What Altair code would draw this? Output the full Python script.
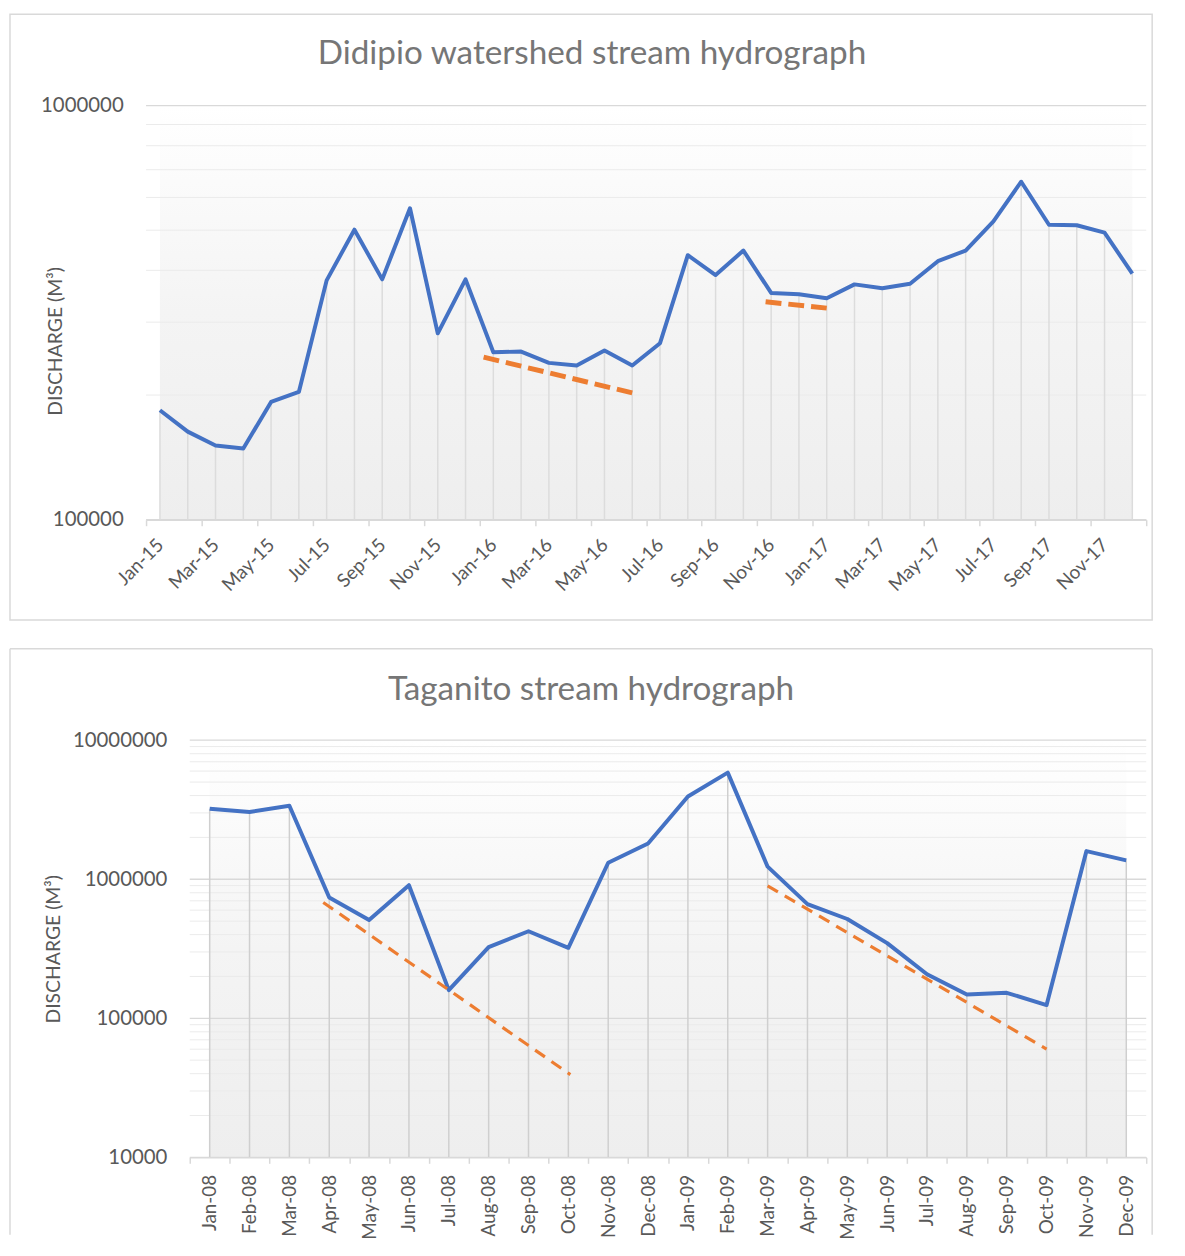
import json
import altair as alt
import pandas as pd

# ---------------- Didipio (top) ----------------
DID_TITLE = "Didipio watershed stream hydrograph"
DID_MONTHS = ["Jan-15", "Feb-15", "Mar-15", "Apr-15", "May-15", "Jun-15",
              "Jul-15", "Aug-15", "Sep-15", "Oct-15", "Nov-15", "Dec-15",
              "Jan-16", "Feb-16", "Mar-16", "Apr-16", "May-16", "Jun-16",
              "Jul-16", "Aug-16", "Sep-16", "Oct-16", "Nov-16", "Dec-16",
              "Jan-17", "Feb-17", "Mar-17", "Apr-17", "May-17", "Jun-17",
              "Jul-17", "Aug-17", "Sep-17", "Oct-17", "Nov-17", "Dec-17"]
DID_VALUES = [183800, 163200, 151100, 148600, 192500, 203500,
              378400, 501500, 380500, 565000, 281900, 380500,
              253800, 254700, 239200, 235700, 256200, 235700,
              266800, 435200, 389700, 446600, 352900, 350200,
              342600, 370000, 362100, 371500, 421000, 446600,
              525200, 654800, 515600, 514000, 493300, 392800]
DID_TREND_A_X = [11.65, 17.0]
DID_TREND_A_Y = [247000, 202400]
DID_TREND_B_X = [21.8, 24.0]
DID_TREND_B_Y = [335900, 324300]
DID_DECADES = [100000, 1000000]

# ---------------- Taganito (bottom) ----------------
TAG_TITLE = "Taganito stream hydrograph"
TAG_MONTHS = ["Jan-08", "Feb-08", "Mar-08", "Apr-08", "May-08", "Jun-08",
              "Jul-08", "Aug-08", "Sep-08", "Oct-08", "Nov-08", "Dec-08",
              "Jan-09", "Feb-09", "Mar-09", "Apr-09", "May-09", "Jun-09",
              "Jul-09", "Aug-09", "Sep-09", "Oct-09", "Nov-09", "Dec-09"]
TAG_VALUES = [3213000, 3043000, 3378000, 740000, 509300, 906000,
              159400, 325000, 422900, 321500, 1315000, 1807000,
              3936000, 5845000, 1232000, 663000, 518000, 347100,
              207300, 148400, 152500, 124500, 1594000, 1367000]
TAG_TREND_A_X = [2.85, 9.05]
TAG_TREND_A_Y = [681300, 39360]
TAG_TREND_B_X = [14.0, 21.0]
TAG_TREND_B_Y = [896300, 60060]
TAG_DECADES = [10000, 100000, 1000000, 10000000]

Y_TITLE = "DISCHARGE (M³)"

FONT = "Lato"
TEXT_C = "#595959"
TITLE_C = "#767676"
AXIS_C = "#d9d9d9"
BORDER_C = "#d9d9d9"
BLUE = "#4472C4"
ORANGE = "#ED7D31"

# Both panels share the same view origin (x = left edge of the top plot);
# the bottom plot area starts `shift` px further right inside its view.
VIEW_W = 1007
BOX_LEFT = -137
BOX_RIGHT = VIEW_W + 6


def panel(title, months, values, trends, decades, shift, H, label_every,
          label_angle, label_padding, box_top, box_bottom, title_xy, ytitle_xy,
          trend_width, trend_dash, drop_color, full_box):
    n = len(months)
    W = VIEW_W
    df = pd.DataFrame({"idx": list(range(n)), "month": months, "value": values})
    one = pd.DataFrame({"k": [0]})
    span = pd.DataFrame({"idx": [0], "idx_end": [n - 1]})
    step = (W - shift) / n
    xscale = alt.Scale(domain=[-0.5, n - 0.5], range=[shift, W], nice=False, zero=False)
    yscale = alt.Scale(type="log", domain=[decades[0], decades[-1]], nice=False)

    tick_vals = [i - 0.5 for i in range(0, n + 1, label_every)]
    label_expr = json.dumps(months) + "[datum.value + 0.5] || ''"
    x_axis = alt.Axis(values=tick_vals, labelExpr=label_expr, labelOffset=step / 2,
                      labelAngle=label_angle, labelAlign="right", labelBaseline="middle",
                      labelPadding=label_padding, labelFontSize=19, labelColor=TEXT_C,
                      labelFont=FONT, labelOverlap=False, labelFlush=False,
                      tickSize=6, tickColor=AXIS_C, tickWidth=1.5,
                      domainColor=AXIS_C, domainWidth=1.5, grid=False, title=None,
                      zindex=1)
    y_axis = alt.Axis(values=decades, format="d", labelFontSize=20.5, labelColor=TEXT_C,
                      labelFont=FONT, labelPadding=23, ticks=False, domain=False,
                      grid=False, title=Y_TITLE, titleFontSize=19.5, titleFont=FONT,
                      titleFontWeight="normal", titleColor=TEXT_C, offset=-shift,
                      titleX=ytitle_xy[0], titleY=ytitle_xy[1], titleAngle=270,
                      titleAlign="center", titleBaseline="middle", zindex=1)

    X = alt.X("idx:Q", scale=xscale, axis=x_axis)
    Y = alt.Y("value:Q", scale=yscale, axis=y_axis)

    layers = []
    if full_box:
        layers.append(alt.Chart(one).mark_rect(fill="transparent", stroke=BORDER_C, strokeWidth=1.5).encode(
            x=alt.value(BOX_LEFT), x2=alt.value(BOX_RIGHT), y=alt.value(box_top), y2=alt.value(H + box_bottom)))
    else:
        layers.append(alt.Chart(one).mark_rule(color=BORDER_C, strokeWidth=1.5).encode(
            x=alt.value(BOX_LEFT), y=alt.value(box_top), y2=alt.value(H + box_bottom)))
        layers.append(alt.Chart(one).mark_rule(color=BORDER_C, strokeWidth=1.5).encode(
            x=alt.value(BOX_LEFT), x2=alt.value(BOX_RIGHT), y=alt.value(box_top)))
        layers.append(alt.Chart(one).mark_rule(color=BORDER_C, strokeWidth=1.5).encode(
            x=alt.value(BOX_RIGHT), y=alt.value(box_top), y2=alt.value(H + box_bottom)))

    grad = alt.Gradient(gradient="linear",
                        stops=[alt.GradientStop(color="#ffffff", offset=0),
                               alt.GradientStop(color="#f4f4f4", offset=0.5),
                               alt.GradientStop(color="#eeeeee", offset=1)],
                        x1=0, x2=0, y1=0, y2=1)
    layers.append(alt.Chart(span).mark_rect(fill=grad).encode(
        x=X, x2=alt.X2("idx_end"), y=alt.value(0), y2=alt.value(H)))

    minor = [k * d for d in decades[:-1] for k in range(2, 10)]
    layers.append(alt.Chart(pd.DataFrame({"value": minor})).mark_rule(color="#ebebeb", strokeWidth=1).encode(
        y=Y, x=alt.value(shift), x2=alt.value(W)))
    layers.append(alt.Chart(pd.DataFrame({"value": decades})).mark_rule(color=AXIS_C, strokeWidth=1.3).encode(
        y=Y, x=alt.value(shift), x2=alt.value(W)))

    layers.append(alt.Chart(df).mark_rule(color=drop_color, strokeWidth=1.5).encode(
        x=X, y=Y, y2=alt.value(H)))

    layers.append(alt.Chart(df).mark_line(color=BLUE, strokeWidth=4, strokeJoin="round").encode(
        x=X, y=Y))

    for tx, ty in trends:
        tdf = pd.DataFrame({"idx": tx, "value": ty})
        layers.append(alt.Chart(tdf).mark_line(color=ORANGE, strokeWidth=trend_width,
                                               strokeDash=trend_dash, strokeCap="butt").encode(
            x=X, y=Y))

    layers.append(alt.Chart(one).mark_text(text=title, font=FONT, fontSize=33.5, color=TITLE_C,
                                           align="center", baseline="middle").encode(
        x=alt.value(title_xy[0]), y=alt.value(title_xy[1])))

    return alt.layer(*layers).properties(width=W, height=H)


top = panel(DID_TITLE, DID_MONTHS, DID_VALUES,
            [(DID_TREND_A_X, DID_TREND_A_Y), (DID_TREND_B_X, DID_TREND_B_Y)],
            DID_DECADES, shift=0, H=417, label_every=2, label_angle=315, label_padding=16,
            box_top=-92, box_bottom=101, title_xy=(449, -52), ytitle_xy=(-91, 237),
            trend_width=5, trend_dash=[16, 7], drop_color="#dcdcdc", full_box=True)

bottom = panel(TAG_TITLE, TAG_MONTHS, TAG_VALUES,
               [(TAG_TREND_A_X, TAG_TREND_A_Y), (TAG_TREND_B_X, TAG_TREND_B_Y)],
               TAG_DECADES, shift=44, H=420, label_every=1, label_angle=270, label_padding=11,
               box_top=-92, box_bottom=78, title_xy=(448, -50), ytitle_xy=(-137, 210),
               trend_width=3.2, trend_dash=[12, 8], drop_color="#cfcfcf", full_box=False)

chart = alt.vconcat(top, bottom, spacing=25).properties(padding=0).configure(
    font=FONT).configure_view(stroke="transparent")

chart.save("out.html", embed_options={"renderer": "svg", "actions": False})
